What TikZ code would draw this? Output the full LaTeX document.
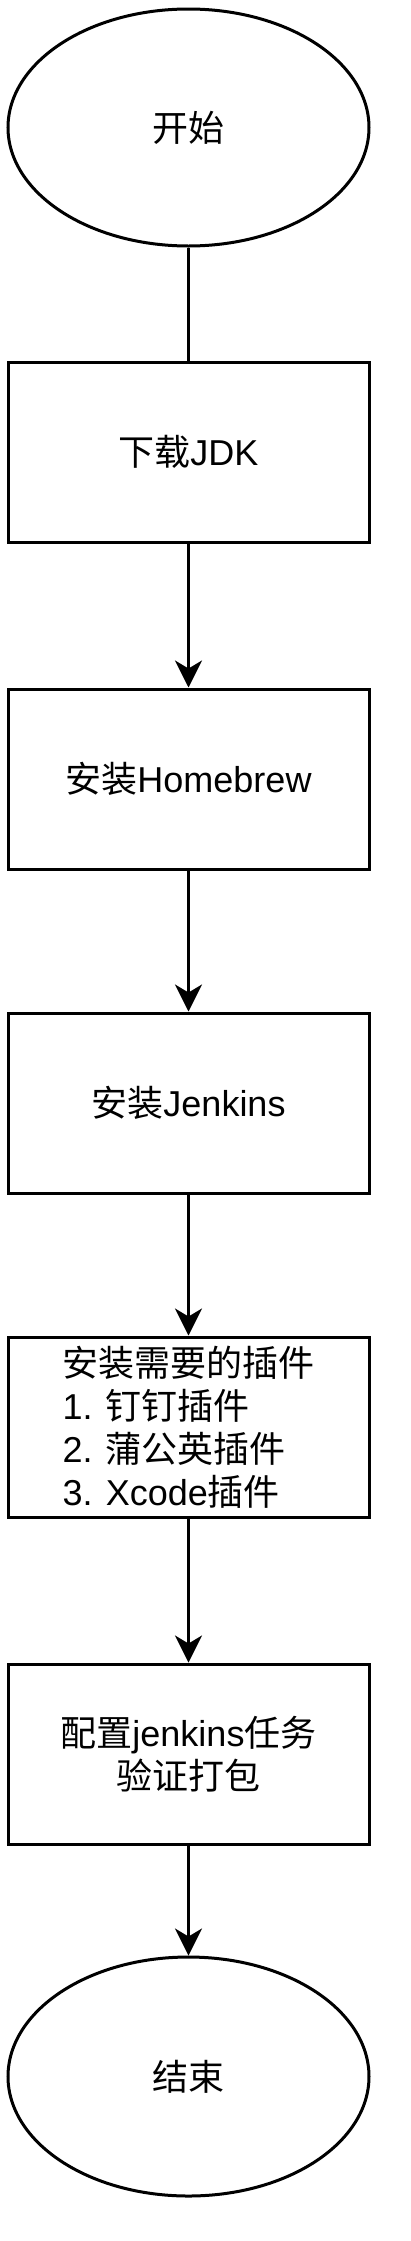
\documentclass[tikz,border=0pt]{standalone}
\usepackage{fontspec}
\setmainfont{Liberation Sans}
\newfontfamily\cjk{Noto Sans CJK SC}
\usetikzlibrary{arrows.meta,shapes.geometric}
\begin{document}
\begin{tikzpicture}[x=1pt,y=-1pt,
  every node/.style={font=\fontsize{36}{43}\selectfont, line width=3pt, draw=black, inner sep=0pt},
  ell/.style={ellipse, minimum width=361pt, minimum height=237pt},
  stepbox/.style={rectangle, minimum width=361pt, minimum height=180pt},
  conn/.style={line width=3pt},
  arr/.style={conn, -{Stealth[length=27pt, width=27pt, inset=8pt]}}]
\useasboundingbox (0,0) rectangle (411,2241);
\node[ell] (start) at (188.5,127.5) {\cjk 开始};
\node[stepbox] (jdk) at (188.5,452) {{\cjk 下载}JDK};
\node[stepbox] (brew) at (188.5,779) {{\cjk 安装}Homebrew};
\node[stepbox] (jenkins) at (188.5,1103) {{\cjk 安装}Jenkins};
\node[stepbox, align=left] (plugins) at (188.5,1427) {{\cjk 安装需要的插件}\\1. {\cjk 钉钉插件}\\2. {\cjk 蒲公英插件}\\3. Xcode{\cjk 插件}};
\node[stepbox, align=center] (config) at (188.5,1754) {{\cjk 配置}jenkins{\cjk 任务}\\{\cjk 验证打包}};
\node[ell, minimum height=239pt] (end) at (188.5,2076.5) {\cjk 结束};
\draw[conn] (start) -- (jdk);
\draw[arr] (jdk) -- (brew);
\draw[arr] (brew) -- (jenkins);
\draw[arr] (jenkins) -- (plugins);
\draw[arr] (plugins) -- (config);
\draw[arr] (config) -- (end);
\end{tikzpicture}
\end{document}
